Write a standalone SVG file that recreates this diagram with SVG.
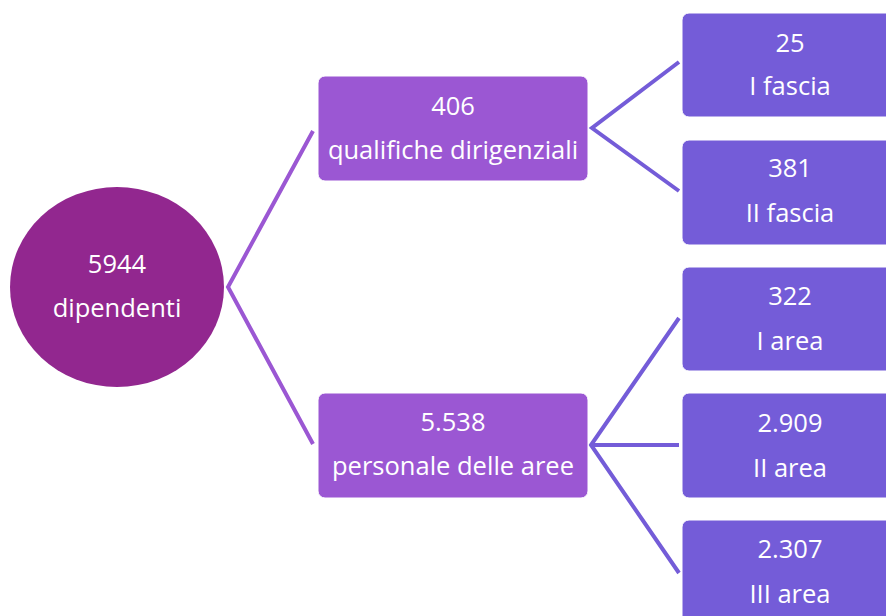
<svg xmlns="http://www.w3.org/2000/svg" width="886" height="616" viewBox="0 0 886 616">
<style>
text{font-family:"Open Sans","Noto Sans",sans-serif;font-size:25.5px;fill:#fff;text-anchor:middle}
.mid{fill:#9B57D3;stroke:#fff;stroke-width:1}
.leaf{fill:#745CD8;stroke:#fff;stroke-width:1}
.c1{stroke:#9B57D3;stroke-width:4;fill:none}
.c2{stroke:#745CD8;stroke-width:4;fill:none}
</style>
<rect width="886" height="616" fill="#fff"/>
<g id="connectors">
<polyline class="c1" points="313,131 228,287 313,444"/>
<polyline class="c2" points="679,62 592,128 679,191"/>
<polyline class="c2" points="679,318 591,445 679,573"/>
<line class="c2" x1="591" y1="445" x2="679" y2="445"/>
</g>
<g id="root">
<ellipse cx="117" cy="287" rx="107" ry="100" fill="#92278F"/>
<text x="117" y="273">5944</text>
<text x="117" y="317">dipendenti</text>
</g>
<g id="mid1">
<rect class="mid" x="318" y="76" width="270" height="105" rx="7"/>
<text x="453" y="115">406</text>
<text x="453" y="159">qualifiche dirigenziali</text>
</g>
<g id="mid2">
<rect class="mid" x="318" y="393" width="270" height="105" rx="7"/>
<text x="453" y="431">5.538</text>
<text x="453" y="475">personale delle aree</text>
</g>
<g id="leaf1">
<rect class="leaf" x="682" y="13" width="220" height="104" rx="7"/>
<text x="790" y="52">25</text>
<text x="790" y="95">I fascia</text>
</g>
<g id="leaf2">
<rect class="leaf" x="682" y="140" width="220" height="105" rx="7"/>
<text x="790" y="177">381</text>
<text x="790" y="222">II fascia</text>
</g>
<g id="leaf3">
<rect class="leaf" x="682" y="267" width="220" height="104" rx="7"/>
<text x="790" y="305">322</text>
<text x="790" y="350">I area</text>
</g>
<g id="leaf4">
<rect class="leaf" x="682" y="393" width="220" height="105" rx="7"/>
<text x="790" y="432">2.909</text>
<text x="790" y="477">II area</text>
</g>
<g id="leaf5">
<rect class="leaf" x="682" y="520" width="220" height="110" rx="7"/>
<text x="790" y="558">2.307</text>
<text x="790" y="603">III area</text>
</g>
</svg>
